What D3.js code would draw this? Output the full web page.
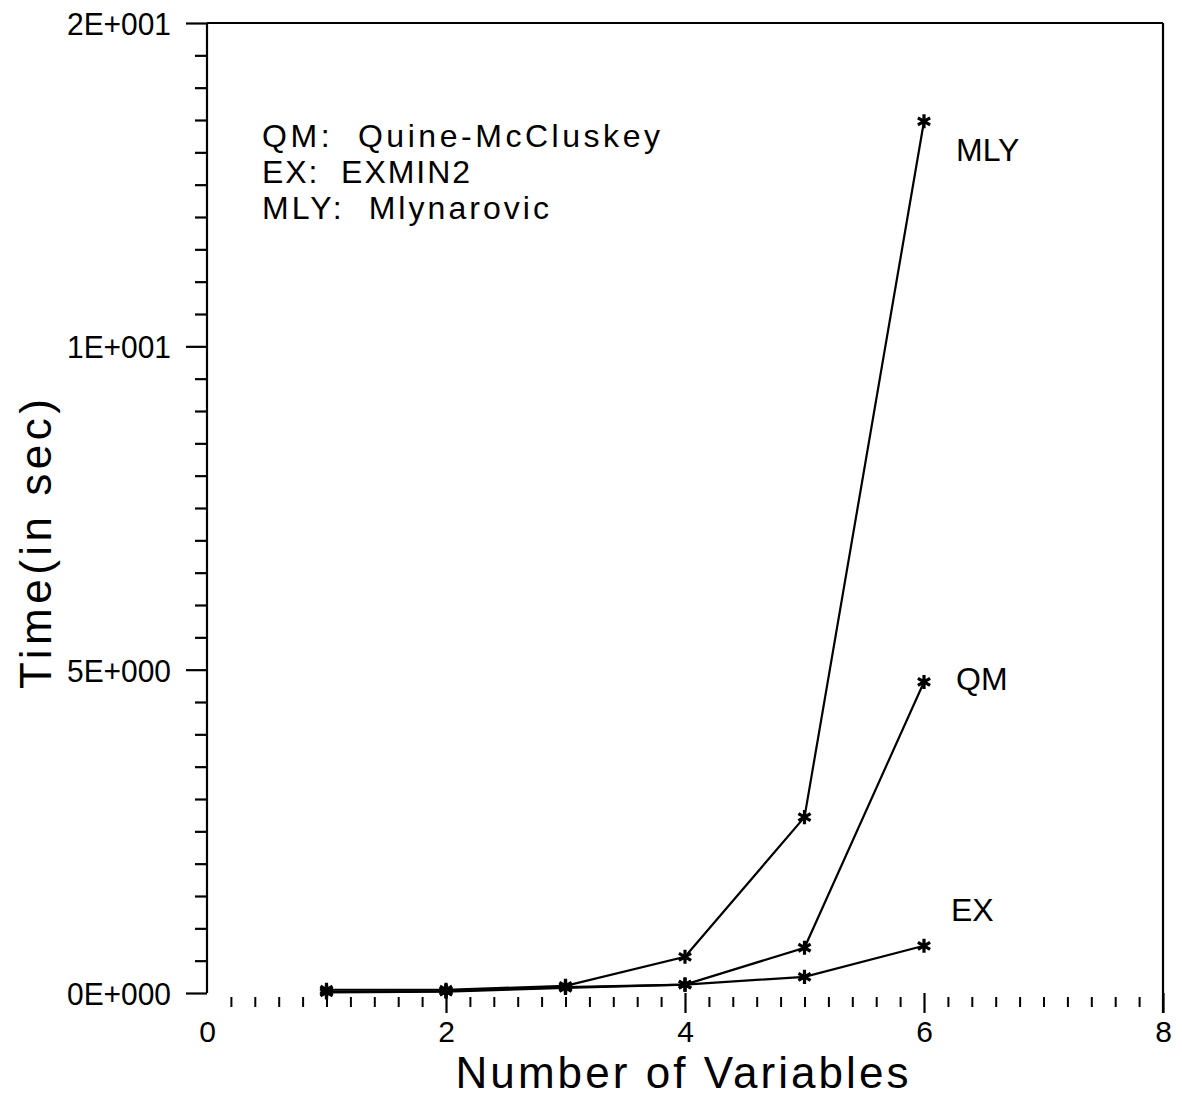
<!DOCTYPE html>
<html>
<head>
<meta charset="utf-8">
<script src="https://cdn.jsdelivr.net/npm/d3@7"></script>
<style>
  html, body { margin: 0; padding: 0; background: #fff; }
  svg { display: block; }
  text { font-family: "Liberation Sans", Arial, sans-serif; fill: #000; }
</style>
</head>
<body>
<svg id="chart" width="1182" height="1097"></svg>
<script>
// ---- data ----
const variables = [1, 2, 3, 4, 5, 6];
const mlyTimes = [0.05, 0.05, 0.11, 0.56, 2.72, 13.48];
const qmTimes  = [0.02, 0.03, 0.09, 0.13, 0.70, 4.81];
const exTimes  = [0.01, 0.02, 0.08, 0.13, 0.25, 0.73];
const seriesNames = ["MLY", "QM", "EX"];
const legendLines = ["QM:  Quine-McCluskey", "EX:  EXMIN2", "MLY:  Mlynarovic"];
const yTickValues = [0, 5, 10, 15];
const yTickLabels = ["0E+000", "5E+000", "1E+001", "2E+001"];
const xTickValues = [0, 2, 4, 6, 8];
const xTickLabels = ["0", "2", "4", "6", "8"];
const xTitle = "Number of Variables";
const yTitle = "Time(in sec)";

// ---- layout ----
const pLeft = 207, pRight = 1163, pTop = 23, pBottom = 993;
const svg = d3.select("#chart");
const x = d3.scaleLinear().domain([0, 8]).range([pLeft, pRight]);
const y = d3.scaleLinear().domain([0, 15]).range([pBottom, pTop]);

// ---- y axis (left) ----
const yMinor = d3.range(0, 15.001, 0.5).filter(v => yTickValues.indexOf(v) < 0);
const yAxisMinor = d3.axisLeft(y).tickValues(yMinor).tickSize(12).tickFormat("");
const yAxisMajor = d3.axisLeft(y).tickValues(yTickValues).tickSize(21)
  .tickPadding(15).tickFormat((d, i) => yTickLabels[i]);
const gyMin = svg.append("g").attr("transform", `translate(${pLeft},0)`).call(yAxisMinor);
const gyMaj = svg.append("g").attr("transform", `translate(${pLeft},0)`).call(yAxisMajor);
[gyMin, gyMaj].forEach(g => {
  g.selectAll(".domain").attr("stroke", "#000").attr("stroke-width", 2.2);
  g.selectAll(".tick line").attr("stroke", "#000").attr("stroke-width", 2.2);
});
gyMaj.selectAll(".domain").remove();
gyMin.selectAll(".domain").attr("d", `M0,${pTop}V${pBottom}`);
gyMaj.selectAll(".tick text")
  .attr("font-size", 32).attr("font-family", "Liberation Sans, Arial, sans-serif")
  .attr("fill", "#000").attr("dy", "0.36em")
  .attr("textLength", 104).attr("lengthAdjust", "spacingAndGlyphs");

// ---- x axis (bottom ticks only, no baseline) ----
const xMinor = d3.range(0.2, 8, 0.2).filter(v => Math.abs(v / 2 - Math.round(v / 2)) > 0.01);
const xAxisMinor = d3.axisBottom(x).tickValues(xMinor).tickSize(10).tickFormat("");
const gxMin = svg.append("g").attr("transform", `translate(0,${pBottom + 4})`).call(xAxisMinor);
gxMin.selectAll(".domain").remove();
gxMin.selectAll(".tick line").attr("stroke", "#000").attr("stroke-width", 2);

const xAxisMajor = d3.axisBottom(x).tickValues(xTickValues).tickSize(20)
  .tickPadding(8).tickFormat((d, i) => xTickLabels[i]);
const gxMaj = svg.append("g").attr("transform", `translate(0,${pBottom})`).call(xAxisMajor);
gxMaj.selectAll(".domain").remove();
gxMaj.selectAll(".tick line").attr("stroke", "#000").attr("stroke-width", 2.2)
  .attr("display", d => (d === 0 ? "none" : null));
gxMaj.selectAll(".tick text")
  .attr("font-size", 30).attr("font-family", "Liberation Sans, Arial, sans-serif")
  .attr("fill", "#000");

// ---- frame: top and right ----
svg.append("line").attr("x1", x(0)).attr("x2", x(8)).attr("y1", y(15)).attr("y2", y(15))
  .attr("stroke", "#000").attr("stroke-width", 2.2);
svg.append("line").attr("x1", x(8)).attr("x2", x(8)).attr("y1", y(15)).attr("y2", pBottom + 20)
  .attr("stroke", "#000").attr("stroke-width", 2.2);

// ---- series ----
const allSeries = [mlyTimes, qmTimes, exTimes];
const line = d3.line().x((d, i) => x(variables[i])).y(d => y(d));
allSeries.forEach(vals => {
  svg.append("path").datum(vals).attr("d", line)
    .attr("fill", "none").attr("stroke", "#000").attr("stroke-width", 2.2);
});
const star = d3.symbol().type(d3.symbolAsterisk).size(140);
allSeries.forEach(vals => {
  svg.append("g").selectAll("path").data(vals).join("path")
    .attr("transform", (d, i) => `translate(${x(variables[i])},${y(d)})`)
    .attr("d", star).attr("fill", "none").attr("stroke", "#000").attr("stroke-width", 3.2);
});

// ---- series end labels ----
const labelOffsets = [[32, 40], [32, 8], [27, -25]];
allSeries.forEach((vals, k) => {
  const last = vals.length - 1;
  svg.append("text")
    .attr("x", x(variables[last]) + labelOffsets[k][0])
    .attr("y", y(vals[last]) + labelOffsets[k][1])
    .attr("font-size", 32).text(seriesNames[k]);
});

// ---- legend block ----
const legendWidths = [398, 208, 287];
legendLines.forEach((t, i) => {
  svg.append("text").attr("x", 262).attr("y", 147 + i * 36)
    .attr("font-size", 32)
    .attr("textLength", legendWidths[i]).attr("lengthAdjust", "spacing")
    .style("white-space", "pre").text(t);
});

// ---- axis titles ----
svg.append("text").attr("x", 682).attr("y", 1088)
  .attr("text-anchor", "middle").attr("font-size", 44)
  .attr("textLength", 453).attr("lengthAdjust", "spacing").text(xTitle);
svg.append("text").attr("transform", "translate(51,544) rotate(-90)")
  .attr("text-anchor", "middle").attr("font-size", 44)
  .attr("textLength", 290).attr("lengthAdjust", "spacing").text(yTitle);
</script>
</body>
</html>
